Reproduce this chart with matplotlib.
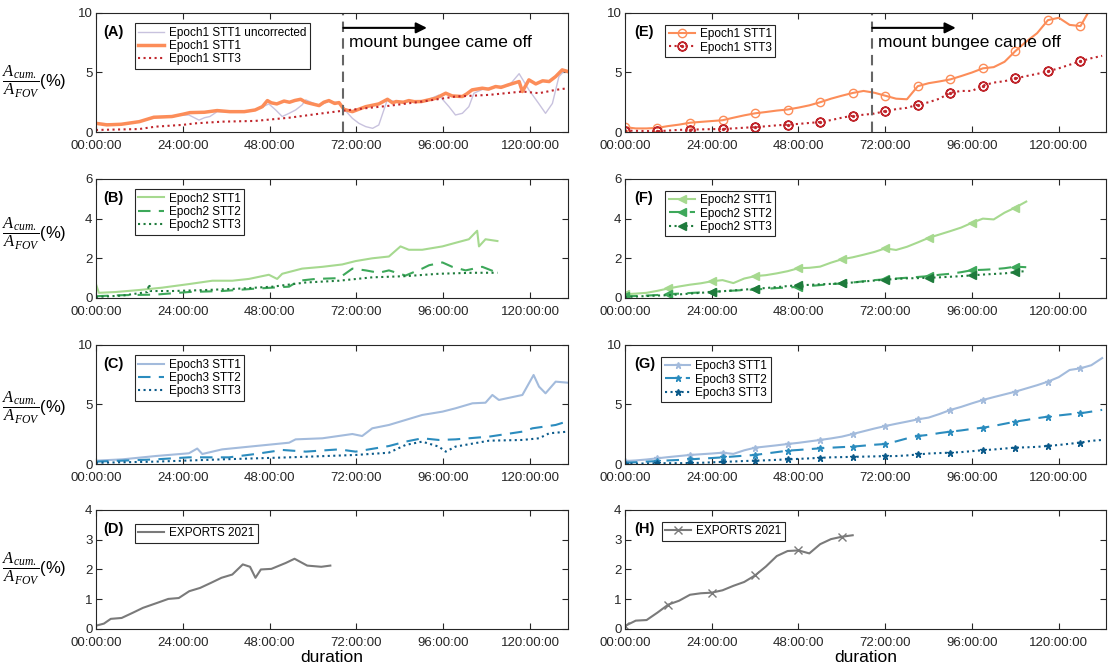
import matplotlib
matplotlib.use('Agg')
import matplotlib.pyplot as plt
import numpy as np

plt.rcParams['font.family'] = ['Liberation Sans', 'DejaVu Sans']
plt.rcParams['mathtext.fontset'] = 'custom'
plt.rcParams['mathtext.rm'] = 'Liberation Serif'
plt.rcParams['mathtext.it'] = 'Liberation Serif:italic'
plt.rcParams['mathtext.bf'] = 'Liberation Serif:bold'

# ---------------- raw series (hours since deployment, % of FOV) ----------------
# Epoch 1
e1_unc_h = [0, 7, 12, 16, 21, 23, 25.7, 28.5, 30, 31.5, 33.5, 37, 41, 44, 46, 47.8, 49.7, 51.5,
            53.4, 55.2, 57, 58, 61.7, 64.4, 67.2, 68.8, 70.9, 72.7, 74.6, 76.5, 78.2, 79.6, 80.6,
            83, 86.5, 90.2, 94.8, 97.6, 99.4, 101.3, 103.1, 104.5, 107, 110.5, 114.2, 117, 119.7,
            122.4, 124.3, 126.2, 128, 129.4, 130.5]
e1_unc = [0.73, 0.65, 0.87, 1.2, 1.25, 1.4, 1.43, 1.0, 1.2, 1.3, 1.71, 1.7, 1.7, 1.85, 2.1, 2.36,
          1.85, 1.3, 1.57, 1.85, 2.28, 2.7, 2.2, 2.6, 2.45, 1.85, 1.15, 0.73, 0.45, 0.31, 0.59, 1.85,
          2.75, 2.5, 2.6, 2.5, 3.1, 2.13, 1.43, 1.57, 2.13, 3.26, 3.6, 3.8, 3.9, 4.9, 3.54, 2.4,
          1.57, 2.4, 4.66, 5.1, 5.0]
e1_stt1_h = [0, 3, 7, 12, 16, 21, 24, 26, 30, 33.5, 37, 41, 44, 46, 47.4, 48.5, 50, 52, 53.5, 55,
             56.6, 58, 59, 61.7, 63, 64.4, 66, 67.2, 68.6, 70.9, 73, 74.6, 76.5, 78.2, 80.6, 82, 83,
             85, 86.5, 88, 90, 92, 94, 96.7, 98.5, 101.3, 102.5, 104, 106.8, 108.5, 110.5, 112, 114,
             117, 117.9, 119.7, 121.6, 123.5, 125.3, 127.1, 128.9, 130.5]
e1_stt1 = [0.73, 0.6, 0.65, 0.87, 1.24, 1.3, 1.49, 1.63, 1.66, 1.8, 1.71, 1.71, 1.85, 2.13, 2.64,
           2.45, 2.36, 2.6, 2.5, 2.65, 2.75, 2.5, 2.42, 2.22, 2.5, 2.64, 2.4, 2.47, 1.9, 1.71, 1.95,
           2.13, 2.25, 2.36, 2.75, 2.45, 2.56, 2.5, 2.64, 2.55, 2.56, 2.7, 2.84, 3.26, 3.03, 2.98,
           3.2, 3.54, 3.68, 3.6, 3.82, 3.75, 3.96, 4.24, 3.4, 4.38, 4.04, 4.3, 4.24, 4.66, 5.22, 5.08]
e1_stt3_h = [0, 12, 16.5, 24, 27.6, 35, 44, 53.4, 62.6, 68.6, 74.6, 81, 90.2, 99.4, 108.7, 117.9,
             122.5, 127.1, 130.5]
e1_stt3 = [0.17, 0.25, 0.45, 0.6, 0.73, 0.87, 0.93, 1.2, 1.57, 1.8, 2.0, 2.2, 2.56, 2.98, 3.12, 3.4,
           3.26, 3.54, 3.68]

# Epoch 2
e2_stt1_h = [0, 0.8, 5.4, 11.9, 18.3, 25.7, 32.2, 37.7, 42.3, 47.8, 50.1, 51.5, 57, 62.6, 68.1,
             71.8, 76.4, 81, 84.2, 86.5, 90.2, 95.8, 99.4, 103.1, 105.4, 105.9, 107.7, 111]
e2_stt1 = [0.7, 0.26, 0.3, 0.4, 0.52, 0.7, 0.87, 0.87, 0.96, 1.17, 0.96, 1.22, 1.48, 1.57, 1.69,
           1.86, 2.0, 2.09, 2.6, 2.43, 2.43, 2.6, 2.78, 2.96, 3.39, 2.6, 2.96, 2.87]
e2_stt2_h = [0, 7.3, 16.5, 25.7, 34.9, 44.1, 53.4, 56.1, 60.7, 67.2, 70.9, 74.6, 78.2, 81, 85.6,
             90.2, 92.1, 95.8, 98.5, 102.2, 106.8, 111]
e2_stt2 = [0.09, 0.14, 0.17, 0.3, 0.35, 0.47, 0.57, 0.87, 0.96, 1.0, 1.48, 1.39, 1.27, 1.39, 1.13,
           1.48, 1.65, 1.79, 1.57, 1.39, 1.57, 1.27]
e2_stt3_h = [0, 7.3, 14.2, 14.7, 15.1, 21.1, 30.3, 39.5, 48.8, 58, 67.2, 76.4, 85.6, 94.8, 104.1, 111]
e2_stt3 = [0.05, 0.12, 0.3, 0.7, 0.35, 0.35, 0.4, 0.47, 0.57, 0.78, 0.87, 1.04, 1.1, 1.22, 1.27, 1.27]

# Epoch 3
e3_stt1_h = [0, 7.3, 16.5, 25.7, 28, 29.4, 34.9, 44.1, 53.4, 55.2, 62.6, 70.9, 73.6, 76.4, 81, 85.6,
             90.2, 95.8, 99.4, 104.1, 107.7, 109.6, 111.4, 117.9, 121, 122.5, 124.3, 127.1, 130.5]
e3_stt1 = [0.28, 0.39, 0.67, 0.9, 1.3, 0.84, 1.23, 1.51, 1.79, 2.07, 2.16, 2.52, 2.35, 3.0, 3.28, 3.7,
           4.12, 4.4, 4.68, 5.1, 5.15, 5.8, 5.38, 5.8, 7.48, 6.5, 5.94, 6.92, 6.83]
e3_stt2_h = [0, 16.5, 25.7, 36.8, 44.1, 51.5, 58, 67.2, 71.8, 81, 85.6, 90.2, 94.8, 99.4, 108.7,
             117.9, 120.7, 127.1, 130.5]
e3_stt2 = [0.2, 0.39, 0.56, 0.56, 0.84, 1.18, 1.04, 1.23, 1.04, 1.51, 1.88, 2.16, 2.02, 2.07, 2.3,
           2.72, 3.0, 3.28, 3.6]
e3_stt3_h = [0, 16.5, 34.9, 53.4, 71.8, 81, 85.6, 90.2, 94.8, 96.7, 99.4, 108.7, 117.9, 122.5, 125.3,
             130.5]
e3_stt3 = [0.1, 0.2, 0.39, 0.56, 0.76, 0.95, 1.6, 1.88, 1.46, 1.04, 1.46, 1.96, 2.02, 2.16, 2.58, 2.72]

# EXPORTS 2021
exp_h = [0, 2.2, 4.1, 7.1, 10.1, 13, 17, 20, 22.9, 25.8, 28.8, 31.8, 34.7, 37.7, 40.6, 42.6, 44.1,
         45.6, 48.5, 52.5, 54.9, 58.4, 62.3, 64.8]
exp_raw = [0.11, 0.18, 0.34, 0.37, 0.54, 0.71, 0.88, 1.01, 1.04, 1.27, 1.38, 1.55, 1.72, 1.83, 2.17,
           2.09, 1.72, 2.0, 2.02, 2.22, 2.36, 2.13, 2.09, 2.13]

# ---------------- smoothed series, 3-hourly ----------------
grid_e1 = np.arange(0, 133, 3)
grid_e2 = np.arange(0, 112, 3)
grid_exp = np.arange(0, 64, 3)

e1_stt1_s = [0.41, 0.30, 0.30, 0.35, 0.50, 0.62, 0.78, 0.85, 0.92, 0.99, 1.20, 1.40, 1.57, 1.68, 1.80,
             1.89, 2.05, 2.24, 2.50, 2.80, 3.05, 3.28, 3.45, 3.30, 3.05, 2.80, 2.75, 3.85, 4.10, 4.25,
             4.42, 4.70, 5.00, 5.35, 5.45, 5.90, 6.80, 7.60, 8.30, 9.40, 9.60, 9.00, 8.90, 10.5, 11.2]
e1_stt3_s = [0.12, 0.10, 0.08, 0.06, 0.12, 0.18, 0.20, 0.22, 0.24, 0.26, 0.30, 0.36, 0.41, 0.48, 0.56,
             0.62, 0.68, 0.76, 0.84, 1.00, 1.20, 1.37, 1.45, 1.55, 1.75, 1.92, 2.03, 2.30, 2.50, 2.80,
             3.30, 3.45, 3.45, 3.90, 4.15, 4.27, 4.50, 4.70, 4.88, 5.10, 5.35, 5.65, 5.95, 6.20, 6.40]
e2_stt1_s = [0.19, 0.22, 0.26, 0.36, 0.48, 0.58, 0.67, 0.74, 0.84, 0.90, 0.75, 0.98, 1.10, 1.15, 1.24,
             1.35, 1.50, 1.52, 1.58, 1.78, 1.95, 2.05, 2.18, 2.32, 2.50, 2.42, 2.58, 2.80, 3.03, 3.20,
             3.37, 3.55, 3.79, 4.00, 3.96, 4.30, 4.56, 4.86]
e2_stt2_s = [0.08, 0.10, 0.12, 0.15, 0.19, 0.22, 0.25, 0.28, 0.31, 0.34, 0.37, 0.40, 0.43, 0.46, 0.50,
             0.53, 0.56, 0.60, 0.65, 0.70, 0.73, 0.78, 0.84, 0.90, 0.94, 0.98, 1.02, 1.06, 1.10, 1.17,
             1.22, 1.30, 1.40, 1.42, 1.45, 1.50, 1.58, 1.55]
e2_stt3_s = [0.05, 0.07, 0.10, 0.12, 0.14, 0.18, 0.22, 0.26, 0.30, 0.34, 0.38, 0.42, 0.47, 0.50, 0.55,
             0.60, 0.64, 0.66, 0.69, 0.71, 0.74, 0.78, 0.83, 0.88, 0.92, 0.96, 0.99, 1.00, 1.02, 1.04,
             1.07, 1.10, 1.14, 1.18, 1.21, 1.24, 1.30, 1.36]
e3_stt1_s = [0.25, 0.30, 0.38, 0.48, 0.58, 0.67, 0.76, 0.82, 0.88, 0.95, 0.85, 1.15, 1.37, 1.47, 1.57,
             1.68, 1.78, 1.90, 2.02, 2.15, 2.30, 2.52, 2.75, 2.98, 3.19, 3.38, 3.56, 3.75, 3.90, 4.20,
             4.54, 4.80, 5.10, 5.38, 5.62, 5.85, 6.08, 6.35, 6.62, 6.92, 7.30, 7.90, 8.04, 8.30, 8.90]
e3_stt2_s = [0.11, 0.15, 0.20, 0.25, 0.30, 0.34, 0.39, 0.45, 0.50, 0.56, 0.63, 0.70, 0.76, 0.88, 1.00,
             1.12, 1.18, 1.25, 1.32, 1.37, 1.42, 1.46, 1.54, 1.62, 1.68, 1.90, 2.15, 2.35, 2.45, 2.60,
             2.72, 2.82, 2.95, 3.05, 3.20, 3.38, 3.56, 3.70, 3.85, 3.98, 4.08, 4.18, 4.26, 4.40, 4.55]
e3_stt3_s = [0.02, 0.03, 0.05, 0.06, 0.07, 0.07, 0.08, 0.10, 0.14, 0.18, 0.21, 0.25, 0.28, 0.31, 0.35,
             0.39, 0.43, 0.47, 0.52, 0.56, 0.58, 0.60, 0.62, 0.64, 0.66, 0.67, 0.72, 0.80, 0.88, 0.92,
             0.95, 1.00, 1.08, 1.16, 1.22, 1.30, 1.38, 1.40, 1.44, 1.52, 1.60, 1.70, 1.80, 1.95, 2.02]
exp_s = [0.10, 0.28, 0.30, 0.55, 0.82, 0.95, 1.15, 1.20, 1.22, 1.30, 1.45, 1.58, 1.80, 2.10, 2.45,
         2.62, 2.64, 2.54, 2.85, 3.02, 3.10, 3.15]

tick_hours = [0, 24, 48, 72, 96, 120]
tick_labels = ['%02d:00:00' % h for h in tick_hours]
bungee_h = 68.4

c_unc = '#c8c2de'
c_e1a, c_e1c = '#fc8d59', '#c0262c'
c_e2a, c_e2b, c_e2c = '#a6d98f', '#3da85a', '#1e7b3c'
c_e3a, c_e3b, c_e3c = '#a3bbdc', '#2b8cbe', '#0b5a8a'
c_exp = '#7a7a7a'

fig = plt.figure(figsize=(11.08, 6.66), dpi=100)
lefts = [0.0866, 0.564]
widths = [0.426, 0.434]
xmaxes = [130.5, 133.0]
bottoms = [0.8018, 0.5526, 0.3033, 0.0556]
height = 0.1787
ymaxes = [10, 6, 10, 4]
yticks = [[0, 5, 10], [0, 2, 4, 6], [0, 5, 10], [0, 1, 2, 3, 4]]
ylab_y = [0.42, 0.535, 0.472, 0.50]

axes = {}
for col in range(2):
    for row in range(4):
        ax = fig.add_axes([lefts[col], bottoms[row], widths[col], height])
        ax.set_xlim(0, xmaxes[col])
        ax.set_ylim(0, ymaxes[row])
        ax.set_xticks(tick_hours)
        ax.set_xticklabels(tick_labels)
        ax.set_yticks(yticks[row])
        ax.tick_params(direction='in', top=True, right=True, length=4, width=0.8,
                       labelsize=9.5, colors='0.15')
        ax.tick_params(axis='x', pad=5.5)
        ax.tick_params(axis='y', pad=2.5)
        for s in ax.spines.values():
            s.set_color('0.15')
            s.set_linewidth(0.8)
        axes[(col, row)] = ax

letters = 'ABCDEFGH'
for col in range(2):
    for row in range(4):
        axes[(col, row)].text(0.015 if col == 0 else 0.02, 0.84, '(%s)' % letters[col * 4 + row],
                              transform=axes[(col, row)].transAxes, fontsize=10.5,
                              fontweight='bold', va='center')

ylab = r'$\dfrac{A_{cum.}}{A_{FOV}}$(%)'
for row in range(4):
    axes[(0, row)].text(-0.062, ylab_y[row], ylab, transform=axes[(0, row)].transAxes,
                        ha='right', va='center', fontsize=12)


def add_legend(ax, x=0.082, y=0.915, hl=2.2):
    leg = ax.legend(loc='upper left', bbox_to_anchor=(x, y), fontsize=8.5, frameon=True,
                    fancybox=False, edgecolor='0.15', framealpha=1, borderpad=0.3,
                    labelspacing=0.1, handlelength=hl, handletextpad=0.4, borderaxespad=0)
    leg.get_frame().set_linewidth(0.8)


def bungee(ax):
    ax.axvline(bungee_h, color='0.4', lw=1.5, ls=(0, (5, 3)))
    ax.annotate('', xy=(91.5, 8.75), xytext=(bungee_h, 8.75),
                arrowprops=dict(arrowstyle='-|>', color='k', lw=1.5, mutation_scale=16,
                                shrinkA=0, shrinkB=0))
    ax.text(bungee_h + 1.5, 7.5, 'mount bungee came off', fontsize=12.5, va='center')


# (A)
ax = axes[(0, 0)]
ax.plot(e1_unc_h, e1_unc, color=c_unc, lw=1, label='Epoch1 STT1 uncorrected')
ax.plot(e1_stt1_h, e1_stt1, color=c_e1a, lw=2.5, label='Epoch1 STT1')
ax.plot(e1_stt3_h, e1_stt3, color=c_e1c, lw=1.5, ls=':', label='Epoch1 STT3')
bungee(ax)
add_legend(ax)

# (B)
ax = axes[(0, 1)]
ax.plot(e2_stt1_h, e2_stt1, color=c_e2a, lw=1.5, label='Epoch2 STT1')
ax.plot(e2_stt2_h, e2_stt2, color=c_e2b, lw=1.5, ls=(0, (6, 4)), label='Epoch2 STT2')
ax.plot(e2_stt3_h, e2_stt3, color=c_e2c, lw=1.5, ls=':', label='Epoch2 STT3')
add_legend(ax)

# (C)
ax = axes[(0, 2)]
ax.plot(e3_stt1_h, e3_stt1, color=c_e3a, lw=1.5, label='Epoch3 STT1')
ax.plot(e3_stt2_h, e3_stt2, color=c_e3b, lw=1.5, ls=(0, (6, 4)), label='Epoch3 STT2')
ax.plot(e3_stt3_h, e3_stt3, color=c_e3c, lw=1.5, ls=':', label='Epoch3 STT3')
add_legend(ax)

# (D)
ax = axes[(0, 3)]
ax.plot(exp_h, exp_raw, color=c_exp, lw=1.5, label='EXPORTS 2021')
add_legend(ax, y=0.885)
ax.set_xlabel('duration', fontsize=12.5, labelpad=1)

# (E)
ax = axes[(1, 0)]
ax.plot(grid_e1, e1_stt1_s, color=c_e1a, lw=1.5, marker='o', mfc='none', ms=6, mew=1,
        markevery=3, label='Epoch1 STT1')
ax.plot(grid_e1, e1_stt3_s, color=c_e1c, lw=1.5, ls=':', marker=r'$\odot$', ms=6.5,
        markevery=3, label='Epoch1 STT3')
bungee(ax)
add_legend(ax, x=0.084, y=0.9)

# (F)
ax = axes[(1, 1)]
ax.plot(grid_e2, e2_stt1_s, color=c_e2a, lw=1.5, marker='<', ms=6, markevery=4, label='Epoch2 STT1')
ax.plot(grid_e2, e2_stt2_s, color=c_e2b, lw=1.5, ls=(0, (6, 4)), marker='<', ms=6, markevery=4,
        label='Epoch2 STT2')
ax.plot(grid_e2, e2_stt3_s, color=c_e2c, lw=1.5, ls=':', marker='<', ms=6,
        markevery=slice(8, None, 4), label='Epoch2 STT3')
add_legend(ax, x=0.084, y=0.9)

# (G)
ax = axes[(1, 2)]
ax.plot(grid_e1, e3_stt1_s, color=c_e3a, lw=1.5, marker='*', ms=5, markevery=3, label='Epoch3 STT1')
ax.plot(grid_e1, e3_stt2_s, color=c_e3b, lw=1.5, ls=(0, (6, 4)), marker='*', ms=5, markevery=3,
        label='Epoch3 STT2')
ax.plot(grid_e1, e3_stt3_s, color=c_e3c, lw=1.5, ls=':', marker='*', ms=5, markevery=3,
        label='Epoch3 STT3')
add_legend(ax, x=0.075, y=0.9)

# (H)
ax = axes[(1, 3)]
ax.plot(grid_exp, exp_s, color=c_exp, lw=1.5, marker='x', ms=6, markevery=4, label='EXPORTS 2021')
add_legend(ax, x=0.077, y=0.9)
ax.set_xlabel('duration', fontsize=12.5, labelpad=1)

fig.savefig('out.png', dpi=100)
